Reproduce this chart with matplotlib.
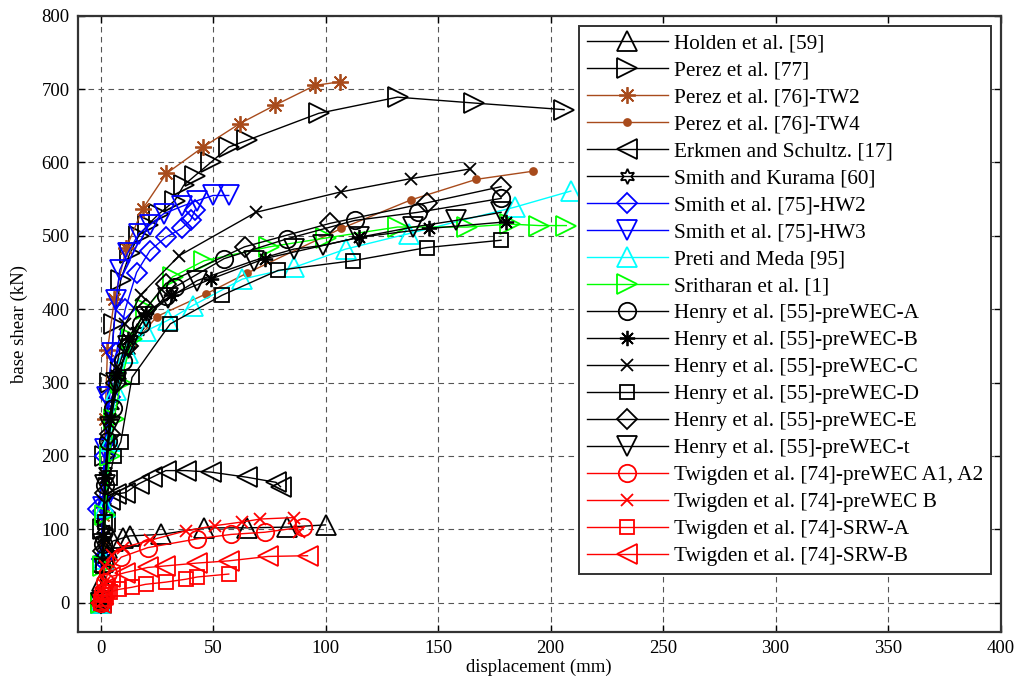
#!/usr/bin/env python3

import matplotlib
matplotlib.use("Agg")
import matplotlib.pyplot as plt

plt.rcParams["font.family"] = ["Liberation Serif", "DejaVu Serif"]

# --- data (displacement mm, base shear kN) ---
holden_x = [0, 0.5, 1, 2, 3, 5.5, 9.8, 13, 27, 46, 65, 83, 100]
holden_y = [0, 30, 55, 70, 75, 84, 88, 91, 93, 102, 102, 103, 106]

perez77_x = [0, 1, 2, 4, 6, 9, 13, 17, 21, 26, 33, 37, 42, 49, 57, 65, 97, 132, 166, 206]
perez77_y = [0, 100, 200, 300, 380, 440, 476, 500, 515, 530, 548, 569, 582, 600, 621, 630, 667, 689, 681, 672]

tw2_x = [0, 1, 2, 3.1, 6.2, 11.4, 18.8, 29.3, 45.6, 61.9, 77.5, 95.3, 106.5]
tw2_y = [0, 120, 250, 344, 414, 483, 537, 585, 621, 653, 678, 705, 710]

tw4_x = [0, 1, 2, 4, 8, 14, 25, 47, 65, 107, 138, 167, 192]
tw4_y = [0, 80, 170, 250, 310, 350, 390, 421, 449, 510, 549, 577, 588]

erkmen_x = [0, 1, 2, 4, 7, 11, 17, 23, 29, 38, 49, 65, 78, 80]
erkmen_y = [0, 60, 110, 140, 148, 150, 162, 171, 180, 180, 178, 171, 164, 158]

kurama_x = [0, 0.5, 1, 1.5, 2, 3, 5, 8, 12, 16]
kurama_y = [0, 60, 100, 140, 180, 220, 270, 310, 345, 370]

hw2_x = [0, 0.5, 1, -1, 2, 4, 7, 11, 16, 22, 29, 36, 40, 42]
hw2_y = [0, 60, 125, 128, 200, 280, 340, 400, 450, 480, 498, 510, 521, 535]

hw3_x = [0, 1, 2, 3, 5, 7, 8.5, 12, 17, 22, 28, 36, 43, 50, 57]
hw3_y = [0, 130, 210, 280, 340, 412, 453, 476, 503, 515, 530, 540, 548, 555, 555]

preti_x = [0, 1, 2, 4, 7, 12, 20, 30, 41, 63, 86, 109, 137, 184, 209]
preti_y = [0, 60, 130, 220, 290, 340, 370, 385, 405, 441, 457, 482, 503, 539, 561]

srith_x = [0, 1, 2, 4, 6, 9, 14, 20, 32, 46, 75, 100, 132, 163, 182, 195, 207]
srith_y = [0, 50, 120, 200, 250, 300, 360, 400, 444, 466, 485, 497, 512, 512, 516, 514, 514]

henA_x = [0, 1, 2, 3.5, 5.5, 10, 18, 29, 33, 55, 83, 113, 141, 178]
henA_y = [0, 80, 160, 220, 266, 330, 380, 418, 430, 469, 496, 521, 532, 551]

henB_x = [0, 1, 2, 4, 7, 12, 20, 31.5, 49, 73, 115, 146, 180]
henB_y = [0, 90, 170, 250, 310, 360, 395, 419, 441, 469, 498, 510, 519]

henC_x = [0, 1, 2, 4, 7, 11, 18, 35, 69, 107, 138, 164]
henC_y = [0, 80, 170, 250, 320, 380, 420, 473, 532, 560, 578, 591]

henD_x = [0, 1, 2, 4, 6, 9, 14, 31, 54, 79, 112, 145, 178]
henD_y = [0, 50, 110, 170, 200, 219, 307, 380, 419, 453, 466, 484, 494]

henE_x = [0, 1, 2, 4, 7, 12, 20, 29, 64, 102, 145, 178]
henE_y = [0, 70, 150, 230, 300, 350, 400, 435, 485, 517, 545, 567]

hent_x = [0, 1, 2, 4, 7, 12, 20, 30, 43, 68, 86, 99, 115, 139, 158, 178]
hent_y = [0, 80, 160, 240, 300, 350, 390, 415, 439, 466, 482, 487, 498, 512, 521, 532]

twA_x = [0, 1, 2, 3.3, 9.2, 21, 43, 58, 73, 90]
twA_y = [0, 15, 28, 41, 62, 75, 87, 93, 96, 103]

twB_x = [0, 1, 1.8, 5, 10, 22, 38, 51, 63, 71, 86, 88]
twB_y = [0, 25, 50, 65, 75, 85, 98, 105, 110, 114, 116, 96]

srwA_x = [0, 1, 2, 4, 8, 14, 20, 29, 38, 43, 57]
srwA_y = [0, 5, 10, 14, 18, 21, 25, 28, 32, 35, 39]

srwB_x = [0, 1, 2, 4, 11, 21, 28.5, 43, 57, 74.5, 92]
srwB_y = [0, 10, 20, 35, 41, 48, 50, 54, 57, 63, 64]

BROWN = "#A84B1C"

series = [
    ("Holden et al. [59]", holden_x, holden_y, "k", "^", 14),
    ("Perez et al. [77]", perez77_x, perez77_y, "k", ">", 14),
    ("Perez et al. [76]-TW2", tw2_x, tw2_y, BROWN, (8, 2, 0), 12),
    ("Perez et al. [76]-TW4", tw4_x, tw4_y, BROWN, "o", 5),
    ("Erkmen and Schultz. [17]", erkmen_x, erkmen_y, "k", "<", 14),
    ("Smith and Kurama [60]", kurama_x, kurama_y, "k", (6, 1, 0), 11),
    ("Smith et al. [75]-HW2", hw2_x, hw2_y, "#0000FF", "D", 10.5),
    ("Smith et al. [75]-HW3", hw3_x, hw3_y, "#0000FF", "v", 14),
    ("Preti and Meda [95]", preti_x, preti_y, "#00FFFF", "^", 14),
    ("Sritharan et al. [1]", srith_x, srith_y, "#00FF00", ">", 14),
    ("Henry et al. [55]-preWEC-A", henA_x, henA_y, "k", "o", 12.5),
    ("Henry et al. [55]-preWEC-B", henB_x, henB_y, "k", (8, 2, 0), 11),
    ("Henry et al. [55]-preWEC-C", henC_x, henC_y, "k", "x", 9),
    ("Henry et al. [55]-preWEC-D", henD_x, henD_y, "k", "s", 10.5),
    ("Henry et al. [55]-preWEC-E", henE_x, henE_y, "k", "D", 10.5),
    ("Henry et al. [55]-preWEC-t", hent_x, hent_y, "k", "v", 14),
    ("Twigden et al. [74]-preWEC A1, A2", twA_x, twA_y, "#FF0000", "o", 12.5),
    ("Twigden et al. [74]-preWEC B", twB_x, twB_y, "#FF0000", "x", 9),
    ("Twigden et al. [74]-SRW-A", srwA_x, srwA_y, "#FF0000", "s", 10.5),
    ("Twigden et al. [74]-SRW-B", srwB_x, srwB_y, "#FF0000", "<", 14),
]

fig = plt.figure(figsize=(10.21, 6.84), dpi=100)
ax = fig.add_axes([0.0764, 0.076, 0.9036, 0.901])

for label, x, y, c, m, ms in series:
    filled = label.endswith("TW4")
    ax.plot(x, y, color=c, lw=1.0, marker=m, markersize=ms,
            markerfacecolor=c if filled else "none", markeredgecolor=c,
            markeredgewidth=1.3, label=label)

ax.set_xlim(-10, 400)
ax.set_ylim(-40, 800)
ax.set_xticks(range(0, 401, 50))
ax.set_yticks(range(0, 801, 100))
ax.grid(True, color="#555555", linestyle=(0, (5, 4)), linewidth=0.8)
ax.set_axisbelow(True)
ax.tick_params(direction="in", top=True, right=True, labelsize=13.5,
               length=5, width=1.0, pad=6)
for sp in ax.spines.values():
    sp.set_linewidth(1.6)
    sp.set_color("#333333")

ax.set_xlabel("displacement (mm)", fontsize=13.5, labelpad=1)
ax.set_ylabel("base shear (kN)", fontsize=13.5, labelpad=10)

leg = ax.legend(loc="upper right", bbox_to_anchor=(0.990, 0.984),
                borderaxespad=0, fontsize=15.3, handlelength=3.8,
                handletextpad=0.3, labelspacing=0.335, borderpad=0.38,
                fancybox=False, framealpha=1, edgecolor="#333333")
leg.get_frame().set_linewidth(1.4)

fig.savefig("out.png", dpi=100)
